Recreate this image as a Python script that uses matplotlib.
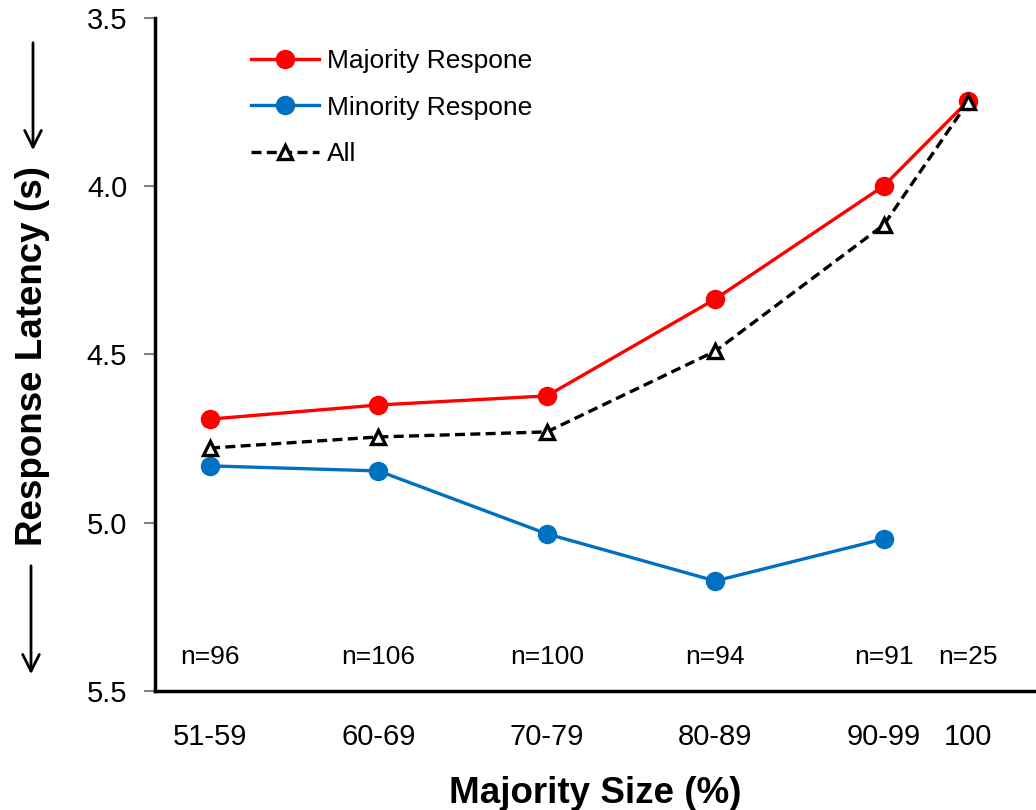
import matplotlib
matplotlib.use("Agg")
import matplotlib.pyplot as plt

plt.rcParams['font.family'] = ['Liberation Sans', 'DejaVu Sans']

categories = ["51-59", "60-69", "70-79", "80-89", "90-99", "100"]
x_pos = [55, 65, 75, 85, 95, 100]
majority = [4.692, 4.650, 4.623, 4.335, 3.999, 3.747]
minority = [4.831, 4.846, 5.033, 5.173, 5.048, None]
all_resp = [4.778, 4.745, 4.730, 4.490, 4.115, 3.750]
n_labels = ["n=96", "n=106", "n=100", "n=94", "n=91", "n=25"]
n_y = 5.40

fig = plt.figure(figsize=(10.36, 8.10), dpi=100)
ax = fig.add_axes([0.1496, 0.1469, 0.8504, 0.8309])

ax.plot(x_pos, majority, color='#FF0000', lw=2.4, marker='o', ms=13,
        label='Majority Respone', zorder=3)
mx = [x for x, v in zip(x_pos, minority) if v is not None]
mv = [v for v in minority if v is not None]
ax.plot(mx, mv, color='#0070C0', lw=2.4, marker='o', ms=13,
        label='Minority Respone', zorder=3)
ax.plot(x_pos, all_resp, color='black', lw=2.4, ls=(0, (3, 1.6)), marker='^', ms=10,
        mfc='white', mec='black', mew=2.4, label='All', zorder=4)

for x, t in zip(x_pos, n_labels):
    ax.text(x, n_y, t, ha='center', va='center', fontsize=19)

ax.set_xlim(51.73, 104.04)
ax.set_ylim(5.5, 3.5)
ax.set_yticks([3.5, 4.0, 4.5, 5.0, 5.5])
ax.set_yticklabels(["3.5", "4.0", "4.5", "5.0", "5.5"], fontsize=21)
ax.set_xticks(x_pos)
ax.set_xticklabels(categories, fontsize=21)
ax.tick_params(axis='x', length=0, pad=23)
ax.tick_params(axis='y', length=8, width=1.5, color='#808080', pad=12, direction='out')

for s in ['top', 'right']:
    ax.spines[s].set_visible(False)
for s in ['left', 'bottom']:
    ax.spines[s].set_linewidth(2.5)
    ax.spines[s].set_color('black')

ax.set_xlabel("Majority Size (%)", fontsize=26.5, fontweight='bold', labelpad=18)
fig.text(33/1036, 1-356/810, "Response Latency (s)", rotation=90, fontsize=26.5,
         fontweight='bold', ha='center', va='center')

# arrows beside the y label
fig.add_artist(matplotlib.patches.FancyArrowPatch(
    (33/1036, 1-40/810), (33/1036, 1-153/810), transform=fig.transFigure,
    arrowstyle='->,head_length=12,head_width=6', lw=2, color='black', mutation_scale=1))
fig.add_artist(matplotlib.patches.FancyArrowPatch(
    (31/1036, 1-563/810), (31/1036, 1-677/810), transform=fig.transFigure,
    arrowstyle='->,head_length=12,head_width=6', lw=2, color='black', mutation_scale=1))

ax.legend(loc='upper left', bbox_to_anchor=(0.0845, 0.985), frameon=False,
          fontsize=19, handlelength=2.6, labelspacing=0.85, handletextpad=0.3,
          borderaxespad=0.4)

fig.savefig("out.png", dpi=100)
